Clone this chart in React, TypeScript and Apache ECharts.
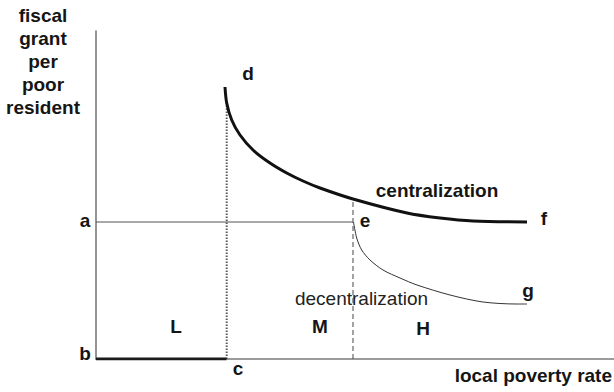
import React, { useEffect, useRef } from "react";
import * as echarts from "echarts";

// Conceptual units: x = local poverty rate, y = fiscal grant per poor resident
const X_MAX = 518;
const Y_MAX = 328;

const centralization: [number, number][] = [
  [129, 272], [130.7, 256], [135.7, 239], [144, 224], [157, 209], [174, 196],
  [190.7, 186], [207, 178], [224, 171], [257, 160], [311, 146], [344, 141],
  [377, 138], [431, 137],
];

const decentralization: [number, number][] = [
  [257.5, 137], [260.7, 121], [265.7, 109], [274, 99], [287, 89], [304, 81],
  [321, 74], [354, 64], [387, 57], [421, 55], [431, 55],
];

const grantLevelA: [number, number][] = [[0, 137], [257, 137]];
const grantLevelB: [number, number][] = [[0, 0], [130.5, 0]];
const thresholdC: [number, number][] = [[130.7, 0], [130.7, 256]];
const thresholdE: [number, number][] = [[257, 0], [257, 160]];

const yAxisTitle = ["fiscal", "grant", "per", "poor", "resident"];
const xAxisTitle = "local poverty rate";

const FONT = '"Liberation Sans", Arial, Helvetica, sans-serif';

export default function App() {
  const ref = useRef<HTMLDivElement>(null);
  useEffect(() => {
    if (!ref.current) return;
    const chart = echarts.init(ref.current, null, { renderer: "svg" });
    const bold = (text: string, x: number, y: number, align = "center") => ({
      type: "text",
      x,
      y,
      silent: true,
      style: {
        text,
        fontFamily: FONT,
        fontSize: 19,
        fontWeight: "bold",
        fill: "#151515",
        align,
        verticalAlign: "middle",
      },
    });
    chart.setOption({
      animation: false,
      backgroundColor: "#ffffff",
      grid: { left: 96, right: 0, top: 31, bottom: 33 },
      xAxis: {
        type: "value",
        min: 0,
        max: X_MAX,
        axisLine: { show: true, lineStyle: { color: "#7a7a7a", width: 1.6 } },
        axisTick: { show: false },
        axisLabel: { show: false },
        splitLine: { show: false },
      },
      yAxis: {
        type: "value",
        min: 0,
        max: Y_MAX,
        axisLine: { show: true, lineStyle: { color: "#7a7a7a", width: 1.6 } },
        axisTick: { show: false },
        axisLabel: { show: false },
        splitLine: { show: false },
      },
      series: [
        {
          type: "line",
          name: "threshold c",
          data: thresholdC,
          symbol: "none",
          lineStyle: { color: "#5a5a5a", width: 2, type: [1.5, 1.5] },
        },
        {
          type: "line",
          name: "threshold e",
          data: thresholdE,
          symbol: "none",
          lineStyle: { color: "#444", width: 1, type: [5, 3] },
        },
        {
          type: "line",
          name: "a",
          data: grantLevelA,
          symbol: "none",
          lineStyle: { color: "#555", width: 1.1 },
        },
        {
          type: "line",
          name: "b",
          data: grantLevelB,
          symbol: "none",
          lineStyle: { color: "#1a1a1a", width: 3 },
        },
        {
          type: "line",
          name: "centralization",
          data: centralization,
          symbol: "none",
          smooth: 0.3,
          lineStyle: { color: "#111", width: 3 },
        },
        {
          type: "line",
          name: "decentralization",
          data: decentralization,
          symbol: "none",
          smooth: 0.3,
          lineStyle: { color: "#333", width: 1 },
        },
      ],
      graphic: [
        {
          type: "text",
          x: 43,
          y: 61,
          silent: true,
          style: {
            text: yAxisTitle.join("\n"),
            fontFamily: FONT,
            fontSize: 19,
            fontWeight: "bold",
            lineHeight: 23,
            fill: "#151515",
            align: "center",
            verticalAlign: "middle",
          },
        },
        bold(xAxisTitle, 612, 375.5, "right"),
        bold("a", 85, 220.5),
        bold("b", 85, 353.5),
        bold("c", 238, 368.5),
        bold("d", 248, 73.5),
        bold("e", 365, 220.5),
        bold("f", 544, 218.5),
        bold("g", 528, 290.5),
        bold("L", 176, 326.5),
        bold("M", 320, 326.5),
        bold("H", 423, 328.5),
        bold("centralization", 437, 190.5),
        {
          type: "text",
          x: 361.5,
          y: 298.5,
          silent: true,
          style: {
            text: "decentralization",
            fontFamily: FONT,
            fontSize: 19,
            fill: "#222",
            align: "center",
            verticalAlign: "middle",
          },
        },
      ],
    });
    return () => chart.dispose();
  }, []);
  return (
    <div
      ref={ref}
      style={{ position: "fixed", left: 0, top: 0, width: 614, height: 392 }}
    />
  );
}
